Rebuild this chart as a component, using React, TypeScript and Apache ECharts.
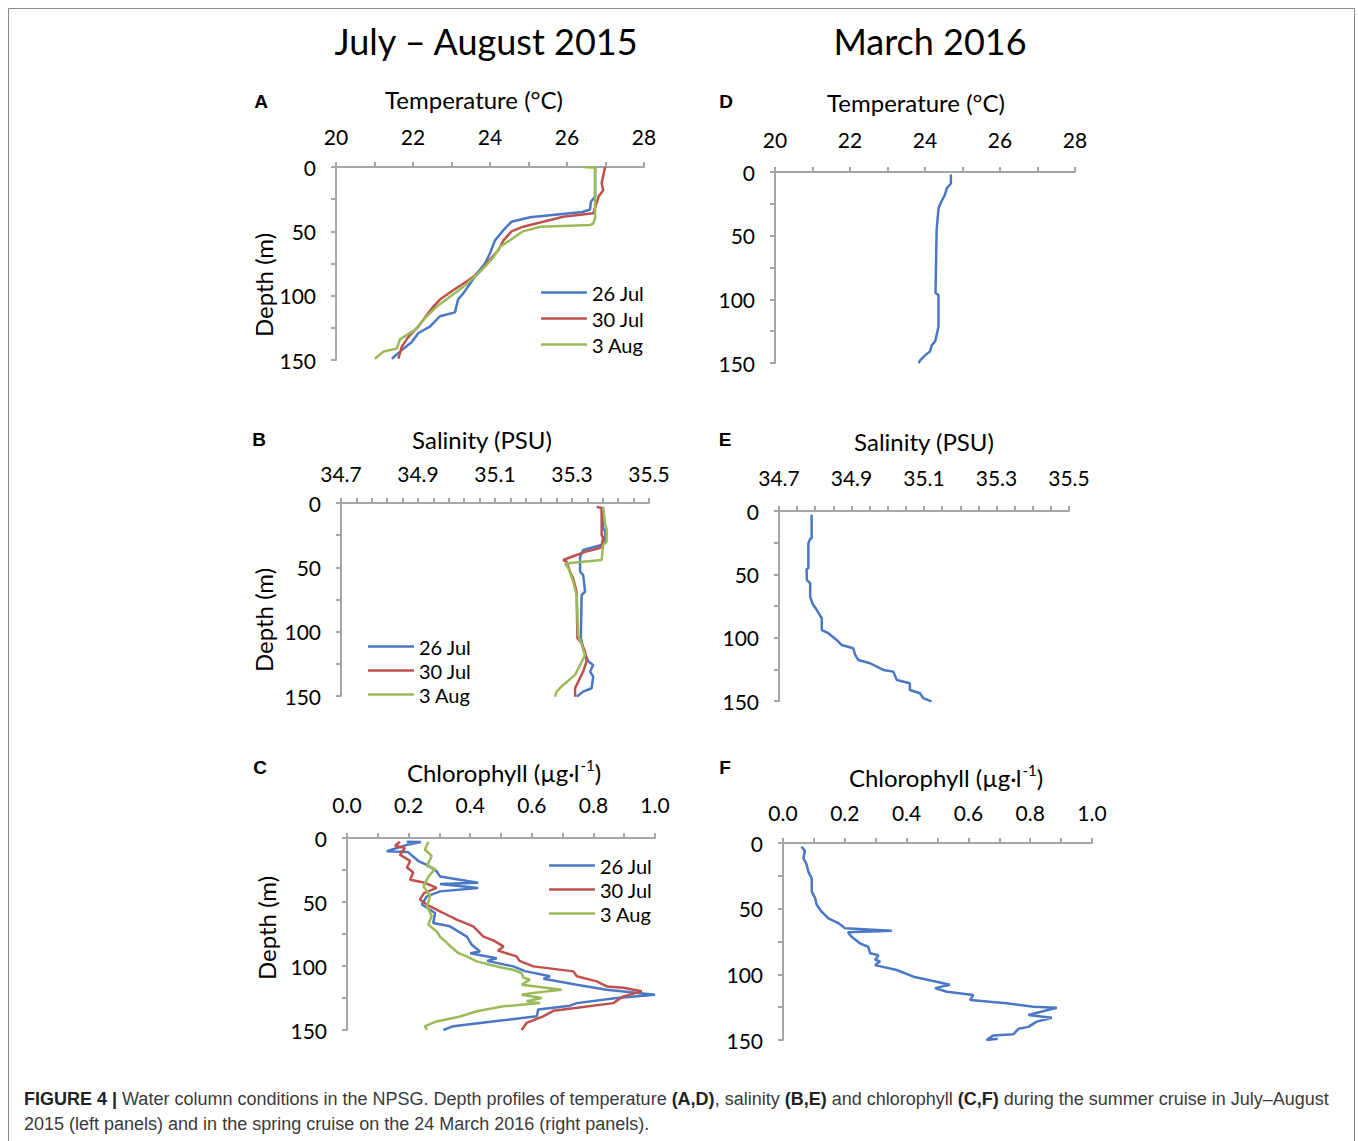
import React, { useEffect, useRef } from "react";
import * as echarts from "echarts";

// ---------- data: [value, depth (m)] ----------
const seriesNames = ["26 Jul", "30 Jul", "3 Aug"];
const springName = "24 Mar";

const tempXTicks = [20, 22, 24, 26, 28];
const salXTicks = [34.7, 34.9, 35.1, 35.3, 35.5];
const chlXTicks = [0.0, 0.2, 0.4, 0.6, 0.8, 1.0];
const depthTicks = [0, 50, 100, 150];

const temp26Jul = [[26.73,0],[26.73,23],[26.62,27],[26.6,33],[26.4,35],[25.04,39],[24.56,42.5],[24.35,49],[24.13,57],[24.0,67],[23.87,75],[23.65,83],[23.52,89],[23.31,98],[23.17,103],[23.09,113],[22.7,116],[22.44,124],[22.14,129],[21.97,136],[21.66,143.5],[21.45,149]];
const temp30Jul = [[26.99,0],[26.9,12.5],[26.94,18],[26.82,23],[26.77,28],[26.68,36],[25.9,38.6],[25.38,42.5],[24.86,46.4],[24.56,50],[24.35,57],[24.22,64.5],[24.0,72],[23.7,82.6],[23.39,89],[23.05,95.6],[22.7,103],[22.53,108.5],[22.36,115],[22.14,124],[21.88,132],[21.71,139.6],[21.62,149]];
const temp3Aug = [[26.43,0],[26.73,0.5],[26.73,40],[26.68,44],[26.6,45],[25.3,46.4],[24.86,50],[24.52,57],[24.26,62],[24.09,70],[23.87,77.5],[23.65,84],[23.31,93],[22.96,100.8],[22.62,108.5],[22.36,116],[22.05,126.6],[21.66,134],[21.58,141],[21.23,143.5],[21.01,149]];
const tempMar = [[24.69,2],[24.69,9],[24.58,12.8],[24.53,18],[24.44,23],[24.36,28.5],[24.31,45.6],[24.28,95],[24.36,96.6],[24.36,121.5],[24.27,133],[24.18,136],[24.13,141],[24.0,144],[23.87,148],[23.83,150]];

const sal26Jul = [[35.377,2.9],[35.381,19.7],[35.386,22],[35.386,30],[35.377,32.6],[35.329,36.5],[35.321,41.7],[35.321,53.4],[35.329,56],[35.334,69],[35.325,71.5],[35.323,105],[35.331,115.5],[35.342,123],[35.355,126],[35.347,131],[35.355,135],[35.351,144],[35.329,146.6],[35.312,150.5]];
const sal30Jul = [[35.364,2.9],[35.377,4],[35.377,25],[35.381,27],[35.377,32.6],[35.373,35],[35.334,38],[35.312,40.4],[35.277,44.3],[35.286,45.6],[35.295,53.4],[35.303,58.5],[35.312,69],[35.314,105],[35.325,109],[35.334,115.5],[35.338,123],[35.329,131],[35.316,139],[35.308,144],[35.308,150.5]];
const sal3Aug = [[35.381,2.9],[35.386,17],[35.39,20],[35.39,30],[35.381,32.6],[35.377,44.3],[35.282,47],[35.291,50.7],[35.303,61],[35.312,71.5],[35.316,102.6],[35.325,110],[35.334,118],[35.321,126],[35.308,133.6],[35.277,141.4],[35.26,146.6],[35.256,150.5]];
const salMar = [[34.79,3],[34.79,21.5],[34.786,22],[34.781,25.5],[34.781,45.2],[34.776,46],[34.777,54.5],[34.786,57],[34.786,67.6],[34.792,73],[34.804,78],[34.818,84.7],[34.818,94],[34.836,96.5],[34.859,101.8],[34.873,105.8],[34.905,108.4],[34.91,113.6],[34.919,117.6],[34.951,120.2],[34.988,125.5],[35.015,126.8],[35.025,133.4],[35.061,136],[35.061,141.3],[35.089,143.9],[35.098,147.8],[35.121,150.5]];

const chl26Jul = [[0.194,2.9],[0.24,3.2],[0.2,5],[0.129,10.4],[0.198,11],[0.232,18],[0.259,21],[0.291,26],[0.302,30],[0.426,35],[0.302,36],[0.426,39],[0.302,41.7],[0.259,45.6],[0.243,52],[0.286,58.6],[0.28,66.4],[0.334,69],[0.389,77],[0.405,83.4],[0.432,88.6],[0.4,90],[0.486,94],[0.455,96],[0.54,100.3],[0.578,104],[0.659,108],[0.638,110],[0.746,114.6],[0.843,118.5],[1.0,122.4],[0.876,125],[0.746,129],[0.724,131],[0.621,134],[0.616,139.3],[0.486,143],[0.345,147],[0.313,150]];
const chl30Jul = [[0.172,2.9],[0.156,6],[0.188,7.8],[0.172,13],[0.205,18],[0.195,23],[0.215,27],[0.205,32.6],[0.253,35],[0.291,39],[0.25,43],[0.237,48],[0.259,52],[0.291,56],[0.313,58.6],[0.356,63.8],[0.41,69],[0.443,77],[0.475,80],[0.508,84.7],[0.49,88],[0.551,92.5],[0.56,96],[0.605,100.3],[0.735,104.2],[0.746,108],[0.811,112],[0.843,116],[0.897,117],[0.957,119.8],[0.897,123.7],[0.865,129],[0.735,133],[0.67,135],[0.637,139.3],[0.583,144.5],[0.567,150]];
const chl3Aug = [[0.264,2.9],[0.253,9],[0.275,14],[0.259,22],[0.286,24],[0.265,30],[0.248,37.8],[0.27,45],[0.26,53.4],[0.275,61],[0.264,67.7],[0.291,73],[0.302,77],[0.324,82],[0.362,90],[0.389,92.5],[0.421,96.4],[0.464,99],[0.508,101.6],[0.54,103],[0.567,105.5],[0.572,109],[0.594,110.7],[0.567,114.6],[0.697,118.5],[0.605,121],[0.567,122.4],[0.632,125],[0.583,127.5],[0.627,129],[0.508,131.5],[0.421,135.4],[0.367,139.4],[0.291,143.3],[0.253,147],[0.259,150]];
const chlMar = [[0.06,2.8],[0.071,6],[0.066,11.7],[0.076,16],[0.082,21.8],[0.093,27],[0.093,37],[0.104,42],[0.109,47],[0.125,52.3],[0.147,57.4],[0.179,61],[0.201,65],[0.352,66.8],[0.21,68],[0.222,71.4],[0.249,76.4],[0.276,79],[0.282,84],[0.309,85.5],[0.298,89],[0.314,90],[0.298,93],[0.368,96.7],[0.422,101.8],[0.497,105.6],[0.54,108],[0.492,110.5],[0.53,113.3],[0.616,115.8],[0.605,119.6],[0.724,122],[0.81,124.7],[0.886,125.5],[0.794,131],[0.87,133],[0.821,136],[0.794,140],[0.762,141.5],[0.745,145.7],[0.681,146.5],[0.659,150],[0.695,149]];

// ---------- styles ----------
const BLUE = "#4A78C4";
const RED = "#C0504D";
const GREEN = "#9BBB59";
const AXIS_GRAY = "#A6A6A6";
const FONT = 'Lato, "Open Sans", "DejaVu Sans", sans-serif';
const CAPTION_FONT = '"Liberation Sans Narrow", "Liberation Sans", Arial, sans-serif';

type Panel = {
  left: number; top: number; width: number; height: number;
  min: number; max: number; interval: number; minorSplit: number; digits: number;
  ticks: number[]; labelMargin: number;
};

const panels: Panel[] = [
  { left: 336, top: 167, width: 308, height: 193, min: 20, max: 28, interval: 2, minorSplit: 2, digits: 0, ticks: tempXTicks, labelMargin: 20 },
  { left: 775, top: 172, width: 300, height: 191, min: 20, max: 28, interval: 2, minorSplit: 2, digits: 0, ticks: tempXTicks, labelMargin: 22 },
  { left: 341, top: 503, width: 308, height: 193, min: 34.7, max: 35.5, interval: 0.2, minorSplit: 5, digits: 1, ticks: salXTicks, labelMargin: 19 },
  { left: 779, top: 511, width: 290, height: 190, min: 34.7, max: 35.5, interval: 0.2, minorSplit: 4, digits: 1, ticks: salXTicks, labelMargin: 23 },
  { left: 347, top: 838, width: 308, height: 192, min: 0, max: 1, interval: 0.2, minorSplit: 2, digits: 1, ticks: chlXTicks, labelMargin: 23 },
  { left: 783, top: 843, width: 309, height: 197, min: 0, max: 1, interval: 0.2, minorSplit: 2, digits: 1, ticks: chlXTicks, labelMargin: 20 },
];

const axisLine = { show: true, lineStyle: { color: AXIS_GRAY, width: 2 } };
const axisTick = { show: true, length: 5, lineStyle: { color: AXIS_GRAY, width: 2 } };

function buildOption() {
  const grid = panels.map((p) => ({ left: p.left, top: p.top, width: p.width, height: p.height }));
  const xAxis = panels.map((p, i) => ({
    gridIndex: i,
    type: "value",
    position: "top",
    min: p.min,
    max: p.max,
    interval: p.interval,
    axisLine,
    axisTick,
    minorTick: { show: true, splitNumber: p.minorSplit, length: 5, lineStyle: { color: AXIS_GRAY, width: 2 } },
    splitLine: { show: false },
    minorSplitLine: { show: false },
    axisLabel: {
      fontSize: 21, color: "#000", fontFamily: FONT, margin: p.labelMargin,
      formatter: (v: number) => v.toFixed(p.digits),
    },
  }));
  const yAxis = panels.map((p, i) => ({
    gridIndex: i,
    type: "value",
    inverse: true,
    min: depthTicks[0],
    max: depthTicks[depthTicks.length - 1],
    interval: 50,
    axisLine,
    axisTick,
    minorTick: { show: true, splitNumber: 2, length: 5, lineStyle: { color: AXIS_GRAY, width: 2 } },
    splitLine: { show: false },
    minorSplitLine: { show: false },
    axisLabel: { fontSize: 21, color: "#000", fontFamily: FONT, margin: 20 },
  }));

  const mk = (name: string, idx: number, data: number[][], color: string) => ({
    name, type: "line", xAxisIndex: idx, yAxisIndex: idx, data, symbol: "none",
    showSymbol: false, lineStyle: { width: 2.5, color }, itemStyle: { color },
  });

  const series = [
    mk(seriesNames[0], 0, temp26Jul, BLUE),
    mk(seriesNames[1], 0, temp30Jul, RED),
    mk(seriesNames[2], 0, temp3Aug, GREEN),
    mk(springName, 1, tempMar, BLUE),
    mk(seriesNames[0], 2, sal26Jul, BLUE),
    mk(seriesNames[1], 2, sal30Jul, RED),
    mk(seriesNames[2], 2, sal3Aug, GREEN),
    mk(springName, 3, salMar, BLUE),
    mk(seriesNames[0], 4, chl26Jul, BLUE),
    mk(seriesNames[1], 4, chl30Jul, RED),
    mk(seriesNames[2], 4, chl3Aug, GREEN),
    mk(springName, 5, chlMar, BLUE),
  ];

  const legendBase = {
    orient: "vertical", data: seriesNames, itemWidth: 46, itemHeight: 2.5, itemGap: 5,
    selectedMode: false, textStyle: { fontSize: 20, color: "#000", fontFamily: FONT, lineHeight: 21 },
    icon: "rect",
  };
  const legend = [
    { ...legendBase, left: 536, top: 277 },
    { ...legendBase, left: 363, top: 631, itemGap: 3 },
    { ...legendBase, left: 544, top: 850, itemGap: 3 },
  ];

  const txt = (text: string, x: number, y: number, fontSize: number, extra: any = {}) => ({
    type: "text", x, y,
    style: { text, fontSize, fontFamily: FONT, fill: "#000", align: "center", verticalAlign: "middle", ...extra },
  });
  const letter = (t: string, x: number, y: number) =>
    txt(t, x, y, 19, { fontFamily: '"Liberation Sans", Arial, sans-serif', fontWeight: "bold" });
  const depthLabel = (x: number, y: number) => ({
    type: "text", x, y, rotation: Math.PI / 2,
    style: { text: "Depth (m)", fontSize: 24, fontFamily: FONT, fill: "#000", align: "center", verticalAlign: "middle" },
  });
  const chlTitle = (x: number, y: number) => ({
    type: "text", x, y,
    style: {
      text: "{a|Chlorophyll (µg·l}{s|-1}{a|)}",
      align: "center", verticalAlign: "middle", fill: "#000",
      rich: {
        a: { fontSize: 24, fontFamily: FONT, fill: "#000", lineHeight: 30 },
        s: { fontSize: 15, fontFamily: FONT, fill: "#000", lineHeight: 30, verticalAlign: "top", padding: [0, 0, 0, 1] },
      },
    },
  });

  const graphic = [
    { type: "rect", shape: { x: 8.5, y: 8.5, width: 1346, height: 1145 }, style: { fill: "none", stroke: "#8a8a8a", lineWidth: 1 } },
    txt("July – August 2015", 486, 41, 36),
    txt("March 2016", 930, 41, 36),
    letter("A", 261, 101),
    letter("D", 726, 101),
    letter("B", 259, 439),
    letter("E", 725, 439),
    letter("C", 260, 767),
    letter("F", 725, 767),
    txt("Temperature (°C)", 474, 99, 24),
    txt("Temperature (°C)", 916, 102, 24),
    txt("Salinity (PSU)", 482, 439, 24),
    txt("Salinity (PSU)", 924, 441, 24),
    chlTitle(504, 772),
    chlTitle(946, 777),
    depthLabel(263, 285),
    depthLabel(263, 620),
    depthLabel(266, 928),
    {
      type: "text", x: 24, y: 1086,
      style: {
        text:
          "{b|FIGURE 4 |} Water column conditions in the NPSG. Depth profiles of temperature {b|(A,D)}, salinity {b|(B,E)} and chlorophyll {b|(C,F)} during the summer cruise in July–August\n2015 (left panels) and in the spring cruise on the 24 March 2016 (right panels).",
        fontSize: 18, fontFamily: CAPTION_FONT, fill: "#3a3a3a", lineHeight: 25,
        align: "left", verticalAlign: "top",
        rich: {
          b: { fontSize: 18, fontFamily: CAPTION_FONT, fontWeight: "bold", fill: "#222", lineHeight: 25 },
        },
      },
    },
  ];

  return { animation: false, backgroundColor: "#fff", grid, xAxis, yAxis, series, legend, graphic };
}

export default function App() {
  const ref = useRef<HTMLDivElement>(null);
  useEffect(() => {
    if (!ref.current) return;
    const chart = echarts.init(ref.current, undefined, { renderer: "svg" });
    chart.setOption(buildOption() as any);
    return () => chart.dispose();
  }, []);
  return (
    <div
      ref={ref}
      style={{ position: "absolute", left: 0, top: 0, width: 1358, height: 1141, background: "#fff" }}
    />
  );
}
